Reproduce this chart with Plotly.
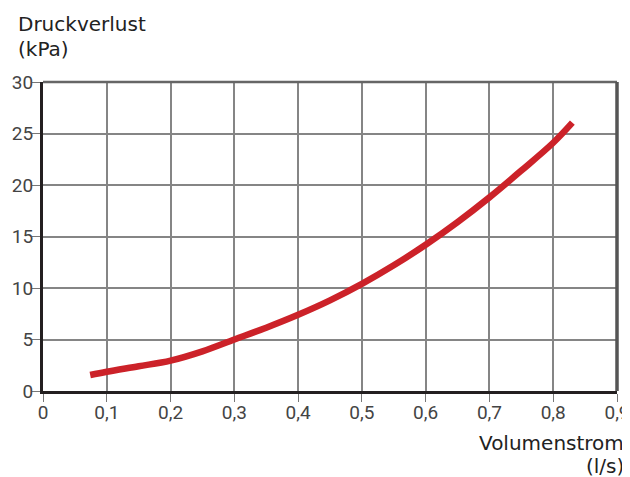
import plotly.graph_objects as go

flow = [0.074, 0.1, 0.15, 0.2, 0.25, 0.3, 0.35, 0.4, 0.45, 0.5, 0.55, 0.6, 0.65, 0.7, 0.75, 0.8, 0.83]
pressure = [1.55, 1.87, 2.4, 2.95, 3.85, 5.0, 6.15, 7.4, 8.8, 10.4, 12.2, 14.2, 16.4, 18.8, 21.4, 24.1, 26.05]

x_tickvals = [0, 0.1, 0.2, 0.3, 0.4, 0.5, 0.6, 0.7, 0.8, 0.9]
x_ticktext = ["0", "0,1", "0,2", "0,3", "0,4", "0,5", "0,6", "0,7", "0,8", "0,9"]
y_tickvals = [0, 5, 10, 15, 20, 25, 30]
y_ticktext = ["0", "5", "10", "15", "20", "25", "30"]

FONT = "DejaVu Sans"
TICKFONT = "Roboto"
OFF = 8  # page body margin offset
W, H = 630 - OFF, 477 - OFF
# plot area in page pixels: x 43..617, y 82..391
L = 43 - OFF
T = 82 - OFF
R = W - (617 - OFF)
B = H - (391 - OFF)
PW, PH = W - L - R, H - T - B

def px_x(px):
    return (px - OFF - L) / PW

def px_y(py):
    return (H - B - (py - OFF)) / PH

fig = go.Figure()
fig.add_trace(go.Scatter(
    x=flow, y=pressure, mode="lines",
    line=dict(color="#cc2229", width=6.5, shape="spline", smoothing=1.0),
    hoverinfo="skip", showlegend=False,
))

axis_common = dict(
    showgrid=True, gridcolor="#858585", gridwidth=1.5,
    showline=True, linecolor="#231f20", linewidth=3,
    ticks="outside", ticklen=8, tickcolor="#777", tickwidth=1,
    zeroline=False, fixedrange=True, automargin=False,
    ticklabeloverflow="allow",
    tickfont=dict(family=TICKFONT, size=19, color="#444"),
)

fig.update_layout(
    width=W, height=H,
    margin=dict(l=L, r=R, t=T, b=B, autoexpand=False),
    paper_bgcolor="white", plot_bgcolor="white",
    font=dict(family=FONT, size=18, color="#444"),
    xaxis=dict(range=[0, 0.9], tickvals=x_tickvals, ticktext=x_ticktext,
               ticklabelstandoff=-6, **axis_common),
    yaxis=dict(range=[0, 30], tickvals=y_tickvals, ticktext=y_ticktext,
               ticklabelstandoff=-5, **axis_common),
    shapes=[
        dict(type="line", xref="paper", yref="paper", x0=0, x1=1, y0=1, y1=1,
             line=dict(color="#666", width=2.5)),
        dict(type="line", xref="paper", yref="paper", x0=1, x1=1, y0=0, y1=1,
             line=dict(color="#555", width=3.5)),
    ],
    annotations=[
        dict(text="Druckverlust", xref="paper", yref="paper",
             x=px_x(16), y=px_y(24), xanchor="left", yanchor="middle",
             showarrow=False, font=dict(family=FONT, size=20, color="#222")),
        dict(text="(kPa)", xref="paper", yref="paper",
             x=px_x(16), y=px_y(49), xanchor="left", yanchor="middle",
             showarrow=False, font=dict(family=FONT, size=20, color="#222")),
        dict(text="Volumenstrom", xref="paper", yref="paper",
             x=px_x(626), y=px_y(443), xanchor="right", yanchor="middle",
             showarrow=False, font=dict(family=FONT, size=20, color="#222")),
        dict(text="(l/s)", xref="paper", yref="paper",
             x=px_x(626), y=px_y(466), xanchor="right", yanchor="middle",
             showarrow=False, font=dict(family=FONT, size=20, color="#222")),
    ],
)

fig.write_html("out.html")
